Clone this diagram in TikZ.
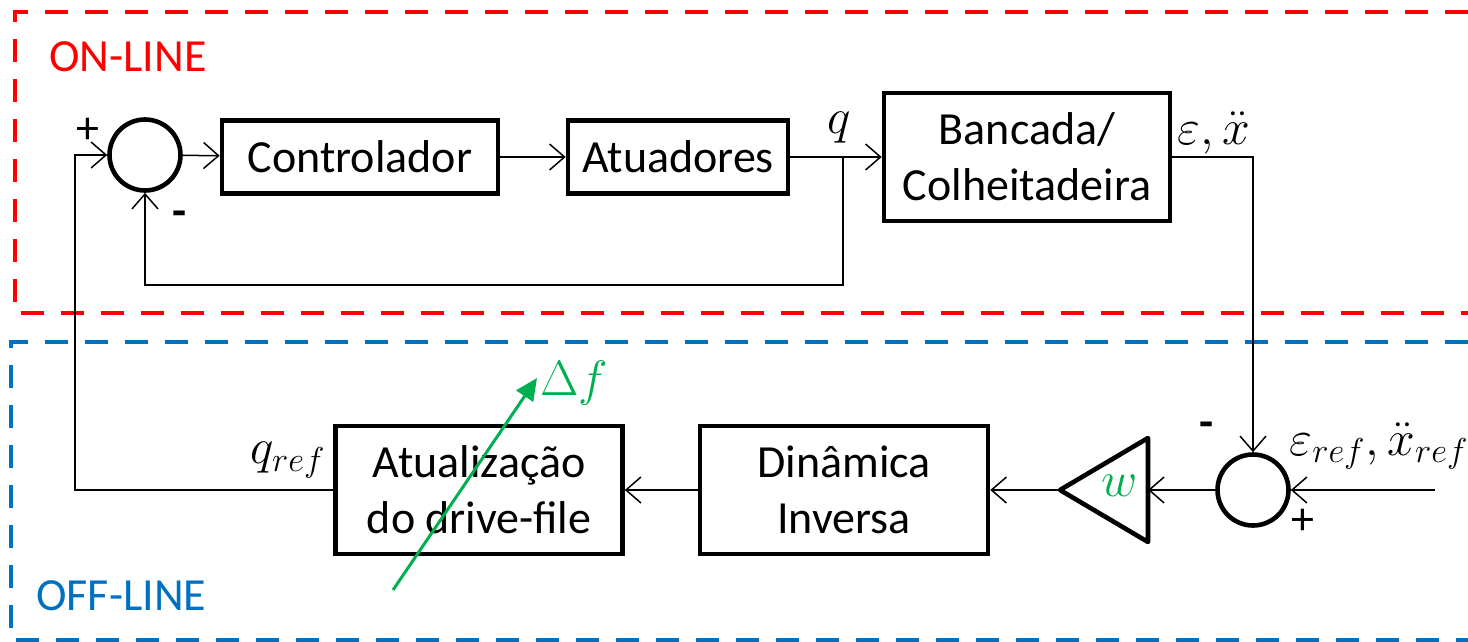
\documentclass[tikz,border=0pt]{standalone}
\usepackage{fontspec}
\setmainfont{Carlito}
\usetikzlibrary{arrows.meta}

\definecolor{onred}{RGB}{255,0,0}
\definecolor{offblue}{RGB}{0,112,192}
\definecolor{adjgreen}{RGB}{0,176,80}

\begin{document}
\begin{tikzpicture}[x=0.5pt, y=-0.5pt, every node/.style={inner sep=0pt}]
  \tikzset{blk/.style={rectangle, draw, line width=2.3pt, align=center, font=\fontsize{23}{28}\selectfont}}
  \tikzset{sumc/.style={circle, draw, line width=2.3pt, minimum size=35.5pt}}
  \tikzset{sig/.style={draw, line width=0.75pt, -{Straight Barb[length=7.5pt, width=13pt]}}}
  \tikzset{adj/.style={draw=adjgreen, line width=1.5pt, -{Triangle[length=11pt, width=10pt]}}}
  \tikzset{zone/.style={line width=2pt, dash pattern=on 11.5pt off 8.5pt}}
  \tikzset{lbl/.style={font=\fontsize{23}{28}\selectfont}}
  \tikzset{mlbl/.style={font=\fontsize{25}{30}\selectfont}}
  \useasboundingbox (0,0) rectangle (1468,642);
  % on-line / off-line zones
  \draw[zone, onred] (1468,12) -- (15,12) -- (15,313) -- (1468,313);
  \draw[zone, offblue] (1468,342) -- (11,342) -- (11,640) -- (1468,640);
  \node[lbl, text=onred, anchor=west] (onl) at (49,57) {ON-LINE};
  \node[lbl, text=offblue, anchor=west] (offl) at (36,596) {OFF-LINE};
  % blocks
  \node[sumc] (sum1) at (145,155) {};
  \node[blk, minimum width=138pt, minimum height=36.5pt] (ctrl) at (360,157) {Controlador};
  \node[blk, minimum width=110pt, minimum height=36.5pt] (act) at (678,157) {Atuadores};
  \node[blk, minimum width=143pt, minimum height=64pt] (plant) at (1027,157) {Bancada/\\Colheitadeira};
  \node[blk, minimum width=143.5pt, minimum height=64pt] (upd) at (479,490) {Atualização\\do drive-file};
  \node[blk, minimum width=144pt, minimum height=64pt] (inv) at (844,490) {Dinâmica\\Inversa};
  \node[sumc] (sum2) at (1253,490) {};
  % gain
  \coordinate (gtip) at (1060,490);
  \coordinate (gin) at (1148,490);
  \draw[line width=2.3pt, line join=round] (gtip) -- (1148,438) -- (1148,542) -- cycle;
  \node[mlbl, text=adjgreen] (w) at (1120,486) {$w$};
  % signals
  \coordinate (qb) at (843,157);
  \coordinate (fb) at (843,285);
  \coordinate (qr) at (75,490);
  \coordinate (ref) at (1435,490);
  \draw[sig] (sum1) -- (ctrl);
  \draw[sig] (ctrl) -- (act);
  \draw[sig] (act) -- (plant);
  \draw[sig] (qb) -- (fb) -| (sum1.south);
  \draw[sig] (plant.east) -| (sum2.north);
  \draw[sig] (ref) -- (sum2.east);
  \draw[sig] (sum2.west) -- (gin);
  \draw[sig] (gtip) -- (inv.east);
  \draw[sig] (inv) -- (upd);
  \draw[sig] (upd.west) -- (qr) |- (sum1.west);
  % signs and signal names
  \node[lbl] (p1) at (88,131) {+};
  \node[lbl] (m1) at (180,219) {\textbf{-}};
  \node[lbl] (m2) at (1207,430) {\textbf{-}};
  \node[lbl] (p2) at (1303,522) {+};
  \node[mlbl] (q) at (839,128) {$q$};
  \node[mlbl] (y) at (1214,133) {$\varepsilon,\ddot{x}$};
  \node[mlbl] (qref) at (288,460) {$q_{ref}$};
  \node[mlbl] (yref) at (1379,446) {$\varepsilon_{ref},\ddot{x}_{ref}$};
  % drive-file adjustment
  \coordinate (dfa) at (393,590);
  \coordinate (dfb) at (537,378);
  \draw[adj] (dfa) -- (dfb);
  \node[mlbl, text=adjgreen] (df) at (574,383) {$\Delta f$};
\end{tikzpicture}
\end{document}
